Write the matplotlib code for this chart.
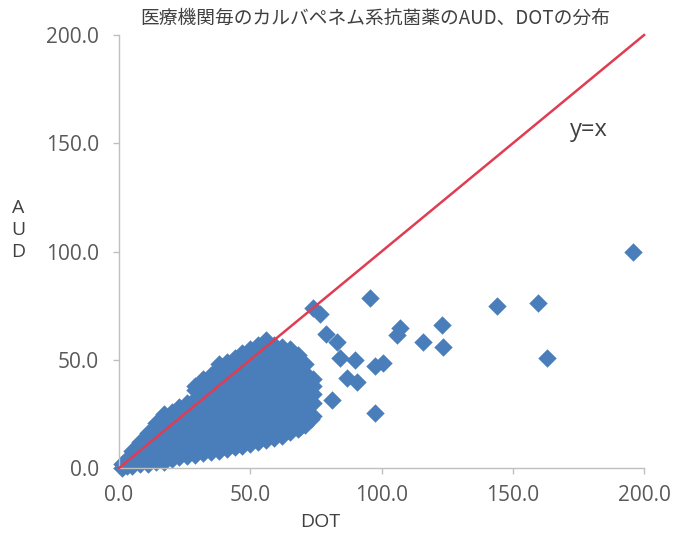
import matplotlib
matplotlib.use('Agg')
from matplotlib import pyplot as plt

# dense cloud of hospitals
cloud_dot = [
    1, 1,
    3, 3,
    5, 5, 5,
    8, 8, 8, 8,
    11, 11, 11, 11, 11,
    14, 14, 14, 14, 14, 14,
    17, 17, 17, 17, 17, 17, 17,
    20, 20, 20, 20, 20, 20, 20,
    23, 23, 23, 23, 23, 23, 23, 23,
    26, 26, 26, 26, 26, 26, 26, 26,
    29, 29, 29, 29, 29, 29, 29, 29, 29, 29,
    32, 32, 32, 32, 32, 32, 32, 32, 32, 32,
    35, 35, 35, 35, 35, 35, 35, 35, 35, 35,
    38, 38, 38, 38, 38, 38, 38, 38, 38, 38, 38, 38,
    41, 41, 41, 41, 41, 41, 41, 41, 41, 41, 41, 41,
    44, 44, 44, 44, 44, 44, 44, 44, 44, 44, 44, 44,
    47, 47, 47, 47, 47, 47, 47, 47, 47, 47, 47, 47, 47,
    50, 50, 50, 50, 50, 50, 50, 50, 50, 50, 50, 50, 50,
    53, 53, 53, 53, 53, 53, 53, 53, 53, 53, 53, 53, 53,
    56, 56, 56, 56, 56, 56, 56, 56, 56, 56, 56, 56, 56,
    59, 59, 59, 59, 59, 59, 59, 59, 59, 59, 59, 59, 59,
    62, 62, 62, 62, 62, 62, 62, 62, 62, 62, 62, 62,
    65, 65, 65, 65, 65, 65, 65, 65, 65, 65, 65,
    68, 68, 68, 68, 68, 68, 68, 68, 68, 68,
    71, 71, 71, 71, 71, 71, 71, 71,
    74, 74, 74, 74, 74,
]
cloud_aud = [
    0, 2,
    1, 4,
    1, 4.5, 8,
    2, 6, 10, 12,
    2, 6, 10, 14, 16,
    3, 7, 11, 15, 19, 21,
    3, 5, 9, 13, 17, 21, 25,
    4, 8, 12, 16, 20, 24, 26,
    5, 7, 11, 15, 19, 23, 27, 28,
    5.5, 9, 13, 17, 21, 25, 29, 30,
    6, 8, 12, 16, 20, 24, 28, 32, 36, 38,
    7, 10, 14, 18, 22, 26, 30, 34, 38, 41,
    7.5, 12, 16, 20, 24, 28, 32, 36, 40, 43,
    8, 10, 14, 18, 22, 26, 30, 34, 38, 42, 46, 48,
    9, 12, 16, 20, 24, 28, 32, 36, 40, 44, 47, 49,
    9.5, 14, 18, 22, 26, 30, 34, 38, 42, 46, 50, 51,
    10, 12, 16, 20, 24, 28, 32, 36, 40, 44, 48, 52, 53,
    11, 14, 18, 22, 26, 30, 34, 38, 42, 46, 50, 54, 55,
    12, 16, 20, 24, 28, 32, 36, 40, 44, 48, 52, 56, 57,
    13, 18, 22, 26, 30, 34, 38, 42, 46, 50, 54, 58, 59,
    14, 16, 20, 24, 28, 32, 36, 40, 44, 48, 52, 55, 57,
    15, 18, 22, 26, 30, 34, 38, 42, 46, 50, 54, 56,
    16.5, 20, 24, 28, 32, 36, 40, 44, 48, 52, 55,
    18, 22, 26, 30, 34, 38, 42, 46, 50, 52,
    20, 24, 28, 32, 36, 40, 44, 48,
    24, 30, 34, 38, 41,
]

# scattered hospitals outside the cloud
outer_dot = [74, 76.6, 79, 83, 84, 90, 87, 90.6, 81, 97.5, 69, 73, 95.6,
             97.5, 100.6, 107, 105.9, 115.8, 123, 123.4, 144, 159.6, 163, 195.8]
outer_aud = [74, 71, 62, 58, 51, 50, 41.5, 39.7, 31.4, 25.4, 19, 22.5, 78.5,
             47, 48.5, 64.6, 61.4, 58.2, 66, 56, 75, 76, 51, 100]

ticks = [0, 50, 100, 150, 200]
tick_labels = ['0.0', '50.0', '100.0', '150.0', '200.0']

blue = '#4a7ebb'
grey = '#595959'

fig = plt.figure(figsize=(6.74, 5.39), dpi=100)
ax = fig.add_axes([0.1766, 0.1317, 0.779, 0.8033])

ax.scatter(cloud_dot + outer_dot, cloud_aud + outer_aud, marker='D', s=88,
           c=blue, linewidths=0, zorder=2, clip_on=False)
ax.plot([0, 200], [0, 200], color='#e03c52', lw=1.8, zorder=3, clip_on=False)

ax.set_xlim(0, 200)
ax.set_ylim(0, 200)
ax.set_xticks(ticks)
ax.set_xticklabels(tick_labels)
ax.set_yticks(ticks)
ax.set_yticklabels(tick_labels)

for side in ['top', 'right']:
    ax.spines[side].set_visible(False)
for side in ['left', 'bottom']:
    ax.spines[side].set_color('#bfbfbf')
    ax.spines[side].set_linewidth(1.0)

ax.tick_params(axis='both', colors='#bfbfbf', length=4.5, width=1.0,
               labelcolor=grey, labelsize=15)
ax.tick_params(axis='y', pad=10)
ax.tick_params(axis='x', pad=8)
for lab in ax.get_xticklabels() + ax.get_yticklabels():
    lab.set_family('Open Sans')

ax.text(179, 156, 'y=x', fontsize=17, color='#404040', ha='center',
        va='center', family='Open Sans')

fig.text(375 / 674, 1 - 18 / 539, '医療機関毎のカルバペネム系抗菌薬のAUD、DOTの分布',
         fontsize=13.5, color='#404040', ha='center', va='center',
         family=['Noto Sans CJK JP', 'DejaVu Sans'])
fig.text(18 / 674, 1 - 230 / 539, 'A\nU\nD', fontsize=14, color='#404040',
         ha='center', va='center', linespacing=1.3, family='Open Sans')
fig.text(320 / 674, 1 - 522 / 539, 'DOT', fontsize=14, color='#404040',
         ha='center', va='center', family='Open Sans')

fig.savefig('out.png', dpi=100)
